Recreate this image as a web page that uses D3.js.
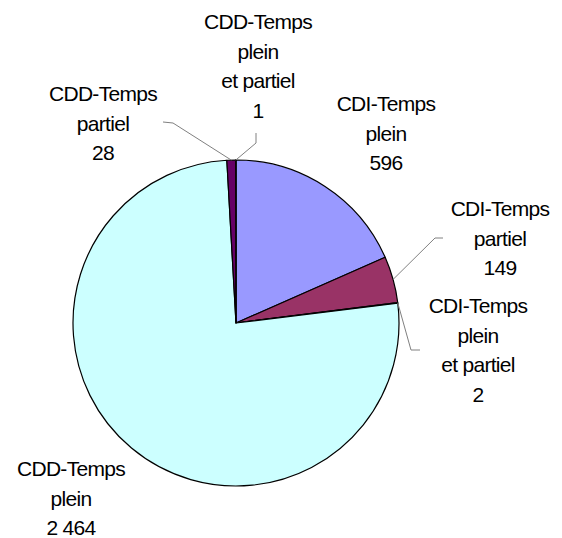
<!DOCTYPE html>
<html><head><meta charset="utf-8">
<script src="https://cdn.jsdelivr.net/npm/d3@7/dist/d3.min.js"></script>
<style>html,body{margin:0;padding:0;background:#fff;}</style>
</head><body>
<script>
// ---- data ----
const categories = ["CDI-Temps plein", "CDI-Temps partiel", "CDI-Temps plein et partiel", "CDD-Temps plein", "CDD-Temps partiel", "CDD-Temps plein et partiel"];
const values = [596, 149, 2, 2464, 28, 1];
const valueLabels = ["596", "149", "2", "2 464", "28", "1"];
const labelLines = [
  ["CDI-Temps", "plein"],
  ["CDI-Temps", "partiel"],
  ["CDI-Temps", "plein", "et partiel"],
  ["CDD-Temps", "plein"],
  ["CDD-Temps", "partiel"],
  ["CDD-Temps", "plein", "et partiel"]
];
const palette = ["#9999FF", "#993366", "#FFFFCC", "#CCFFFF", "#660066", "#FF8080"];

// ---- layout ----
const W = 562, H = 538;
const cx = 236, cy = 323, R = 163;
const lineH = 29.5;
// label block: center x, first-line baseline y, optional leader [elbow, end]
const layout = [
  {x: 386, y: 111, leader: null},
  {x: 500, y: 216, leader: [[435, 238], [443, 238]]},
  {x: 478, y: 313, leader: [[411, 350], [420, 350]]},
  {x: 71,  y: 476, leader: null},
  {x: 103, y: 101, leader: [[173, 123], [163, 122]]},
  {x: 258, y: 29,  leader: [[256, 143], [256, 133]]}
];

const svg = d3.select("body").append("svg").attr("width", W).attr("height", H);

const pie = d3.pie().sort(null).value(d => d)(values);
const arc = d3.arc().innerRadius(0).outerRadius(R);
const g = svg.append("g").attr("transform", `translate(${cx},${cy})`);
g.selectAll("path").data(pie).enter().append("path")
  .attr("d", arc)
  .attr("fill", (d, i) => palette[i])
  .attr("stroke", "#000").attr("stroke-width", 1.2).attr("stroke-linejoin", "round");

// leaders
pie.forEach((d, i) => {
  const L = layout[i].leader;
  if (!L) return;
  const a = (d.startAngle + d.endAngle) / 2;
  const p0 = [cx + R * Math.sin(a), cy - R * Math.cos(a)];
  svg.append("polyline")
    .attr("points", [p0, L[0], L[1]].map(p => p.join(",")).join(" "))
    .attr("fill", "none").attr("stroke", "#808080").attr("stroke-width", 1);
});

// labels
pie.forEach((d, i) => {
  const lines = labelLines[i].concat([valueLabels[i]]);
  const t = svg.append("text")
    .attr("text-anchor", "middle")
    .attr("font-family", "'Liberation Sans', Arial, sans-serif")
    .attr("font-size", 21).attr("letter-spacing", "-0.7px").attr("fill", "#000");
  lines.forEach((s, k) => {
    t.append("tspan").attr("x", layout[i].x).attr("y", layout[i].y + k * lineH).text(s);
  });
});
</script>
</body></html>
